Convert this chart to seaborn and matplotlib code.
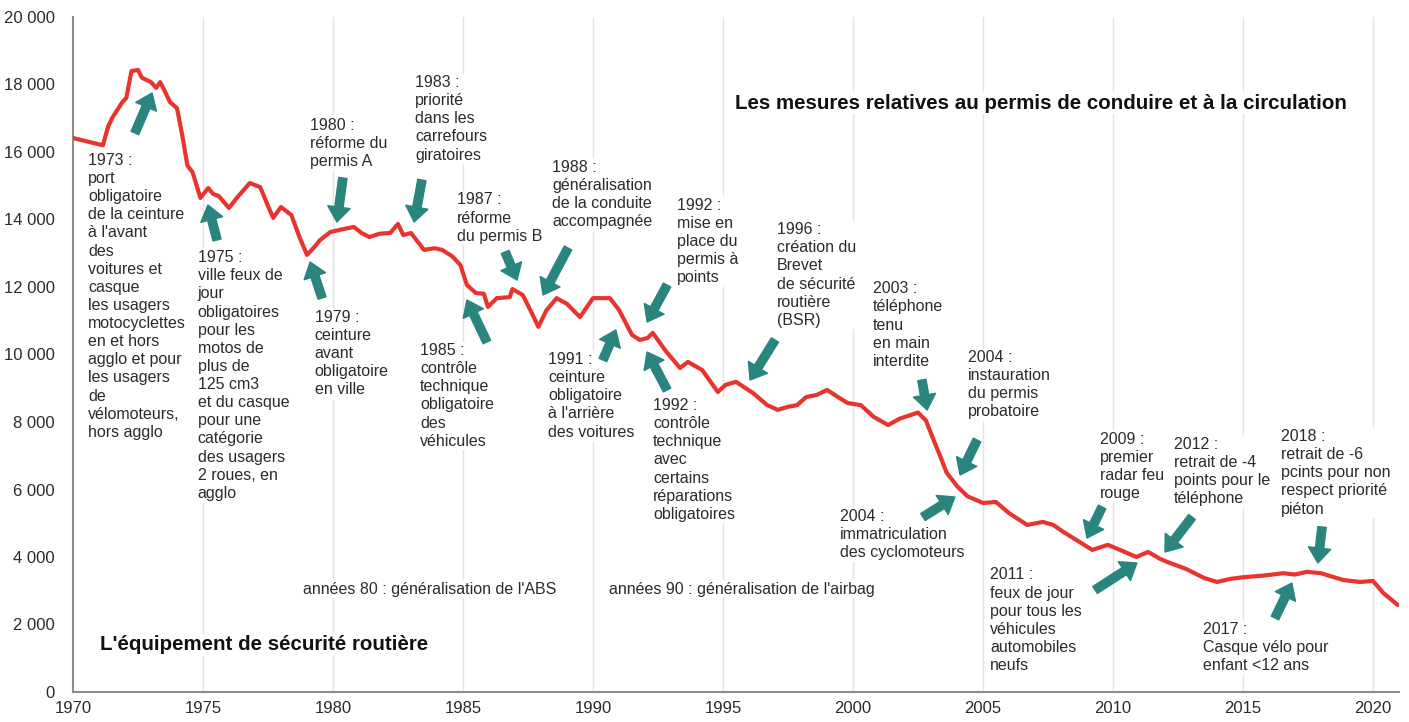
import numpy as np
import pandas as pd
import matplotlib
matplotlib.use("Agg")
import matplotlib.pyplot as plt
from matplotlib.ticker import MultipleLocator, FuncFormatter
import seaborn as sns

# ---------------- data ----------------
years = [1970.0, 1971.15, 1971.35, 1971.5, 1971.75, 1971.9, 1972.05, 1972.25, 1972.5, 1972.65,
         1973.0, 1973.2, 1973.35, 1973.5, 1973.73, 1974.0, 1974.2, 1974.4, 1974.6, 1974.9,
         1975.2, 1975.4, 1975.6, 1976.0, 1976.3, 1976.8, 1977.2, 1977.5, 1977.7, 1978.0,
         1978.4, 1978.7, 1979.0, 1979.3, 1979.5, 1979.9, 1980.3, 1980.8, 1981.1, 1981.4,
         1981.8, 1982.2, 1982.5, 1982.7, 1983.0, 1983.5, 1983.9, 1984.2, 1984.6, 1984.9,
         1985.15, 1985.5, 1985.8, 1985.96, 1986.3, 1986.8, 1986.9, 1987.3, 1987.6, 1987.9,
         1988.2, 1988.6, 1989.0, 1989.5, 1990.0, 1990.65, 1991.0, 1991.5, 1991.8, 1992.1,
         1992.3, 1992.8, 1993.35, 1993.65, 1994.2, 1994.8, 1995.1, 1995.5, 1996.15, 1996.7,
         1997.1, 1997.5, 1997.85, 1998.2, 1998.6, 1999.0, 1999.4, 1999.8, 2000.3, 2000.8,
         2001.35, 2001.8, 2002.5, 2002.8, 2003.1, 2003.4, 2003.6, 2004.0, 2004.4, 2005.0,
         2005.5, 2006.0, 2006.7, 2007.3, 2007.7, 2008.1, 2008.7, 2009.2, 2009.8, 2010.3,
         2010.9, 2011.35, 2011.8, 2012.1, 2012.8, 2013.5, 2014.0, 2014.5, 2015.0, 2015.8,
         2016.55, 2017.0, 2017.45, 2018.0, 2018.5, 2018.85, 2019.5, 2020.0, 2020.4, 2020.95]
deaths = [16415, 16200, 16750, 17000, 17300, 17480, 17600, 18400, 18430, 18200,
          18070, 17900, 18070, 17850, 17480, 17300, 16500, 15600, 15400, 14640,
          14930, 14750, 14700, 14340, 14640, 15080, 14960, 14400, 14050, 14370,
          14130, 13500, 12950, 13200, 13390, 13630, 13700, 13780, 13600, 13480,
          13580, 13600, 13870, 13540, 13600, 13100, 13150, 13100, 12900, 12650,
          12060, 11820, 11800, 11410, 11670, 11700, 11940, 11760, 11300, 10820,
          11300, 11670, 11500, 11110, 11670, 11670, 11320, 10580, 10430, 10490,
          10640, 10100, 9600, 9780, 9540, 8890, 9100, 9190, 8860, 8500,
          8360, 8450, 8500, 8740, 8800, 8950, 8750, 8560, 8500, 8150,
          7910, 8100, 8280, 8050, 7470, 6900, 6500, 6100, 5800, 5600,
          5630, 5300, 4950, 5040, 4950, 4740, 4450, 4210, 4360, 4200,
          4000, 4150, 3950, 3850, 3650, 3380, 3260, 3350, 3400, 3450,
          3520, 3480, 3560, 3520, 3400, 3320, 3260, 3290, 2930, 2580]

# annotations: (text, text_x_year, text_top_value)
notes = [
    ("1973 :\nport\nobligatoire\nde la ceinture\nà l'avant\ndes\nvoitures et\ncasque\nles usagers\nmotocyclettes\nen et hors\nagglo et pour\nles usagers\nde\nvélomoteurs,\nhors agglo", 1970.58, 15970),
    ("1975 :\nville feux de\njour\nobligatoires\npour les\nmotos de\nplus de\n125 cm3\net du casque\npour une\ncatégorie\ndes usagers\n2 roues, en\nagglo", 1974.8, 13090),
    ("1979 :\nceinture\navant\nobligatoire\nen ville", 1979.3, 11320),
    ("1980 :\nréforme du\npermis A", 1979.12, 17010),
    ("1983 :\npriorité\ndans les\ncarrefours\ngiratoires", 1983.15, 18280),
    ("1985 :\ncontrôle\ntechnique\nobligatoire\ndes\nvéhicules", 1983.35, 10340),
    ("1987 :\nréforme\ndu permis B", 1984.77, 14800),
    ("1988 :\ngénéralisation\nde la conduite\naccompagnée", 1988.42, 15760),
    ("1991 :\nceinture\nobligatoire\nà l'arrière\ndes voitures", 1988.27, 10070),
    ("1992 :\nmise en\nplace du\npermis à\npoints", 1993.23, 14640),
    ("1992 :\ncontrôle\ntechnique\navec\ncertains\nréparations\nobligatoires", 1992.31, 8710),
    ("1996 :\ncréation du\nBrevet\nde sécurité\nroutière\n(BSR)", 1997.08, 13920),
    ("2003 :\ntéléphone\ntenu\nen main\ninterdite", 2000.77, 12170),
    ("2004 :\ninstauration\ndu permis\nprobatoire", 2004.42, 10130),
    ("2004 :\nimmatriculation\ndes cyclomoteurs", 1999.5, 5420),
    ("2009 :\npremier\nradar feu\nrouge", 2009.5, 7700),
    ("2011 :\nfeux de jour\npour tous les\nvéhicules\nautomobiles\nneufs", 2005.27, 3690),
    ("2012 :\nretrait de -4\npoints pour le\ntéléphone", 2012.35, 7560),
    ("2017 :\nCasque vélo pour\nenfant <12 ans", 2013.46, 2070),
    ("2018 :\nretrait de -6\npcints pour non\nrespect priorité\npiéton", 2016.46, 7790),
]

# arrows: (tail_year, tail_value, head_year, head_value)
arrows = [
    (1972.38, 16563, 1973.04, 17748), (1975.54, 13393, 1975.19, 14430),
    (1979.58, 11674, 1979.12, 12741), (1980.38, 15230, 1980.15, 13926),
    (1983.42, 15170, 1983.12, 13926), (1985.92, 10370, 1985.15, 11615),
    (1986.62, 13037, 1987.08, 12207), (1989.04, 13156, 1988.08, 11763),
    (1990.38, 9837, 1990.88, 10726), (1992.85, 12059, 1992.08, 10963),
    (1992.85, 8948, 1992.08, 10074), (1997.0, 10430, 1996.04, 9244),
    (2002.65, 9244, 2002.85, 8356), (2004.77, 7467, 2004.12, 6430),
    (2002.69, 5185, 2003.92, 5778), (2009.58, 5482, 2009.0, 4563),
    (2009.31, 3022, 2010.92, 3822), (2013.04, 5185, 2012.0, 4148),
    (2016.23, 2193, 2016.88, 3230), (2018.04, 4889, 2017.88, 3822),
]

title_circ = "Les mesures relatives au permis de conduire et à la circulation"
title_equip = "L'équipement de sécurité routière"
decade_notes = [("années 80 : généralisation de l'ABS", 1978.85, 3040),
                ("années 90 : généralisation de l'airbag", 1990.6, 3040)]

# ---------------- style ----------------
sns.set_style("white")
plt.rcParams['font.family'] = ['Liberation Sans', 'DejaVu Sans']

RED = "#E8342D"
TEAL = "#2A857F"
TXT = "#2B2B2B"

fig = plt.figure(figsize=(14.09, 7.22), dpi=100)
ax = fig.add_axes([73/1409, 30/722, 1326/1409, 675/722])

df = pd.DataFrame({"year": years, "deaths": deaths})
sns.lineplot(data=df, x="year", y="deaths", color=RED, linewidth=3.0,
             estimator=None, sort=False, ax=ax, zorder=3)

ax.set_xlim(1970, 2021)
ax.set_ylim(0, 20000)
ax.set_xlabel("")
ax.set_ylabel("")

ax.xaxis.set_major_locator(MultipleLocator(5))
ax.xaxis.set_minor_locator(MultipleLocator(1))
ax.yaxis.set_major_locator(MultipleLocator(2000))
ax.yaxis.set_major_formatter(FuncFormatter(lambda v, p: f"{int(v):,}".replace(",", " ")))

ax.grid(False)
for yr in range(1975, 2021, 5):
    ax.axvline(yr, color="#e3e3e3", lw=1.0, zorder=0)

for s in ["top", "right"]:
    ax.spines[s].set_visible(False)
for s in ["left", "bottom"]:
    ax.spines[s].set_color("#8c8c8c")
    ax.spines[s].set_linewidth(1.5)

ax.tick_params(axis="x", which="major", direction="inout", length=9, width=1.3,
               color="#8c8c8c", labelsize=12, labelcolor=TXT, pad=2)
ax.tick_params(axis="x", which="minor", direction="inout", length=5, width=1.2,
               color="#8c8c8c")
ax.tick_params(axis="y", which="major", direction="out", length=5, width=1.3,
               color="#8c8c8c", labelsize=12, labelcolor=TXT, pad=8)

bbox = dict(facecolor="white", edgecolor="none", pad=1.0)
for txt, x, y in notes:
    ax.text(x, y, txt, ha="left", va="top", fontsize=11.5, color=TXT,
            linespacing=1.26, bbox=bbox, zorder=2)

for txt, x, y in decade_notes:
    ax.text(x, y, txt, ha="left", va="center", fontsize=11.5, color=TXT,
            bbox=bbox, zorder=2)

ax.text(1995.46, 17450, title_circ, ha="left", va="center", fontsize=14.8,
        fontweight="bold", color="#111111", bbox=bbox, zorder=2)
ax.text(1971.03, 1400, title_equip, ha="left", va="center", fontsize=14.8,
        fontweight="bold", color="#111111", bbox=bbox, zorder=2)

for tx, ty, hx, hy in arrows:
    ax.annotate("", xy=(hx, hy), xytext=(tx, ty),
                arrowprops=dict(arrowstyle="simple,head_length=0.9,head_width=1.35,tail_width=0.5",
                                color=TEAL, shrinkA=0, shrinkB=0, mutation_scale=12),
                zorder=4)

fig.savefig("out.png", dpi=100)
